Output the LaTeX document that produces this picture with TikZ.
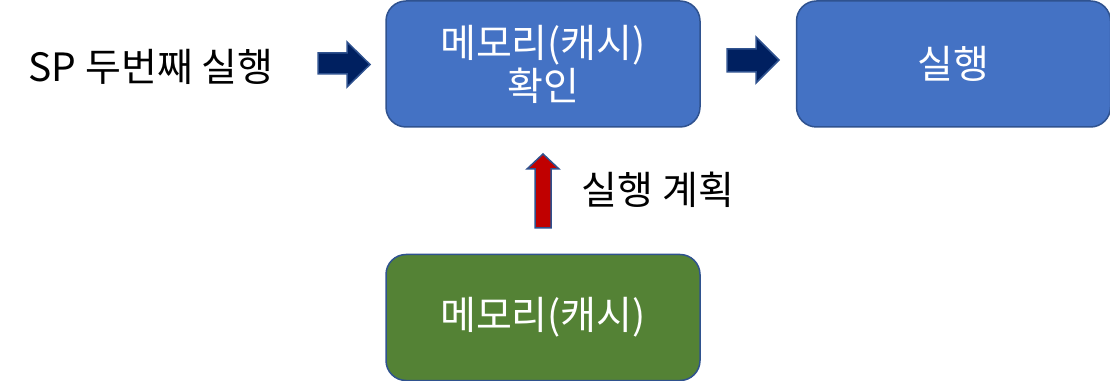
\documentclass[tikz,border=0pt]{standalone}
\usepackage{fontspec}
\setmainfont{Noto Sans CJK KR}
\usetikzlibrary{positioning}

\definecolor{boxblue}{HTML}{4472C4}
\definecolor{boxgreen}{HTML}{548235}
\definecolor{boxline}{HTML}{2F528F}
\definecolor{navy}{HTML}{002060}
\definecolor{planred}{HTML}{C00000}

\tikzset{
  box/.style={draw=boxline, line width=1.5pt, rounded corners=20pt,
    minimum width=314pt, minimum height=126pt, text=white, align=center,
    font=\fontsize{39}{43}\selectfont},
  label/.style={font=\fontsize{39}{43}\selectfont},
  blockarrow/.style={draw=boxline, line width=1.5pt, line join=miter}
}

\begin{document}
\begin{tikzpicture}[x=1pt, y=1pt]
  \useasboundingbox (0,0) rectangle (1110,380);
  % boxes
  \node[box, fill=boxblue] (check) at (543,316) {메모리(캐시)\\확인};
  \node[box, fill=boxblue, right=95pt of check] (run) {실행};
  \node[box, fill=boxgreen, below=126pt of check] (cache) {메모리(캐시)};
  % texts
  \node[label] (second) at (151,313) {SP 두번째 실행};
  \node[label] (plan) at (658,190) {실행 계획};
  % block arrows
  \draw[blockarrow, fill=navy] (318,327) -- (347,327) -- (347,338) -- (370,315.5)
    -- (347,293) -- (347,306) -- (318,306) -- cycle;
  \draw[blockarrow, fill=navy] (727,331) -- (756,331) -- (756,343) -- (779,320)
    -- (756,297) -- (756,308) -- (727,308) -- cycle;
  \draw[blockarrow, fill=planred] (535,152) -- (535,211) -- (527,211) -- (543,226)
    -- (559,211) -- (551,211) -- (551,152) -- cycle;
\end{tikzpicture}
\end{document}
